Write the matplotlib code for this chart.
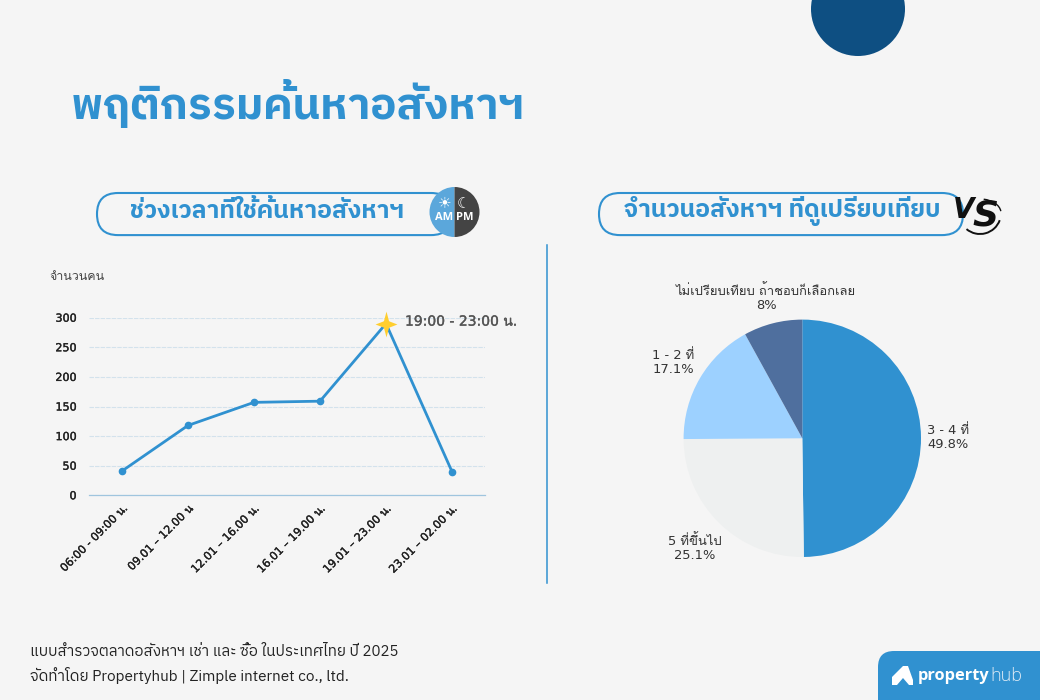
import math
import matplotlib
matplotlib.use('Agg')
from matplotlib import pyplot as plt
from matplotlib import patheffects as pe
from matplotlib.patches import Circle, FancyBboxPatch, Wedge, Arc, Polygon
from matplotlib.path import Path

W, H = 1040, 700
BLUE = '#3091d0'
TH = ['DejaVu Sans', 'Loma']
HEAD = ['IBM Plex Sans Thai', 'DejaVu Sans']

# data
hours = ['06:00 - 09:00 น.', '09.01 – 12.00 น', '12.01 – 16.00 น.',
         '16.01 – 19.00 น.', '19.01 – 23.00 น.', '23.01 – 02.00 น.']
people = [41, 118, 157, 159, 290, 40]
y_ticks = [0, 50, 100, 150, 200, 250, 300]
peak_idx = 4

compare_labels = ['3 - 4 ที่', '5 ที่ขึ้นไป', '1 - 2 ที่', 'ไม่เปรียบเทียบ ถ้าชอบก็เลือกเลย']
compare_pct = [49.8, 25.1, 17.1, 8]
pie_colors = [BLUE, '#eef0f0', '#9dd1ff', '#4f6f9e']
label_dist = [1.23, 1.29, 1.26, 1.22]


def px_axes(left, top, right, bottom):
    return fig.add_axes([left / W, 1 - bottom / H, (right - left) / W, (bottom - top) / H])


def firm(color, width=0.25):
    return [pe.withStroke(linewidth=width, foreground=color)]


fig = plt.figure(figsize=(W / 100, H / 100), dpi=100, facecolor='#f5f5f5')

# full page layer in pixel coords, for decoration and headings
bg = fig.add_axes([0, 0, 1, 1])
bg.set_xlim(0, W)
bg.set_ylim(H, 0)
bg.axis('off')

bg.add_patch(Circle((858, 9), 47, color='#0e4f82', lw=0))
bg.text(71, 103, 'พฤติกรรมค้นหาอสังหาฯ', family=HEAD, weight='bold', size=31.5,
        color=BLUE, va='center')

# heading pills
for x0, x1 in [(97, 452), (599, 963)]:
    bg.add_patch(FancyBboxPatch((x0 + 21, 214), x1 - x0 - 42, 0.1,
                                boxstyle='round,pad=21,rounding_size=21', fc='none',
                                ec=BLUE, lw=1.5))
bg.text(130, 211, 'ช่วงเวลาที่ใช้ค้นหาอสังหาฯ', family=HEAD, weight='bold', size=17.7,
        color=BLUE, va='center')
bg.text(624, 211, 'จำนวนอสังหาฯ ที่ดูเปรียบเทียบ', family=HEAD, weight='bold', size=17.8,
        color=BLUE, va='center')

# AM / PM icon
bg.add_patch(Wedge((454.5, 212), 25, 90, 270, fc='#5ba7db', lw=0))
bg.add_patch(Wedge((454.5, 212), 25, -90, 90, fc='#444444', lw=0))
bg.text(445, 203, '☀', family='DejaVu Sans', size=11, color='white', ha='center', va='center')
bg.text(464, 203, '☾', family='DejaVu Sans', size=11, color='white', ha='center', va='center')
bg.text(444, 217, 'AM', family='Open Sans', weight='bold', size=8, color='white', ha='center', va='center')
bg.text(465, 217, 'PM', family='Open Sans', weight='bold', size=8, color='white', ha='center', va='center')

# VS logo
bg.text(964, 210, 'V', family='Liberation Sans Narrow', weight='bold', style='italic', size=20,
        color='#111111', ha='center', va='center')
bg.text(985, 216, 'S', family='Liberation Sans Narrow', weight='bold', style='italic', size=26,
        color='#111111', ha='center', va='center')
bg.add_patch(Arc((980, 213), 42, 42, theta1=20, theta2=130, color='#111111', lw=1.4))
bg.add_patch(Arc((980, 213), 42, 28, theta1=-75, theta2=-5, color='#111111', lw=1))

# divider
bg.plot([546.5, 546.5], [245, 583], color=BLUE, lw=1.1)

# footer
bg.text(30, 652, 'แบบสำรวจตลาดอสังหาฯ เช่า และ ซื้อ ในประเทศไทย ปี 2025', family=HEAD,
        size=10.9, color='#222222', va='center')
bg.text(30, 675, 'จัดทำโดย Propertyhub | Zimple internet co., ltd.', family=HEAD,
        size=11, color='#222222', va='center')

# propertyhub tab
bg.add_patch(FancyBboxPatch((878 + 16, 651 + 16), 200, 100,
                            boxstyle='round,pad=16,rounding_size=16', fc=BLUE, lw=0))
bg.add_patch(Polygon([(892, 685), (892, 677), (903, 666), (908, 666), (913, 680), (913, 685),
                      (909, 685), (903, 678), (897, 685)], fc='white', lw=0))
bg.text(918, 676, 'property', family='Open Sans', weight='bold', size=11.8, color='white', va='center')
bg.text(990.5, 676, 'hub', family='Open Sans', weight='light', size=13, color='#dceaf5', va='center')

# line chart
ax = px_axes(89, 317.7, 485, 495.3)
ax.patch.set_alpha(0)
x = list(range(len(hours)))
ax.plot(x, people, color=BLUE, lw=2, marker='o', ms=4.5, clip_on=False, zorder=3)
star = Path([(0, 1), (0.2, 0.25), (0.85, 0), (0.2, -0.25), (0, -1), (-0.2, -0.25), (-0.85, 0),
             (-0.2, 0.25), (0, 1)], closed=True)
ax.plot(x[peak_idx], people[peak_idx], marker=star, ms=18.5, color='#ffce2e', mew=0,
        clip_on=False, zorder=4)
ax.annotate('19:00 - 23:00 น.', (x[peak_idx], people[peak_idx]), xytext=(19, 2),
            textcoords='offset pixels', family=TH, size=10, color='#555555', va='center',
            annotation_clip=False, path_effects=firm('#555555'))
ax.set_xlim(-0.5, len(hours) - 0.5)
ax.set_ylim(0, 300)
ax.set_yticks(y_ticks)
ax.set_xticks(x)
ax.set_xticklabels(hours, rotation=45, ha='right', rotation_mode='anchor', family=TH,
                   size=8, color='#222222')
ax.tick_params(length=0)
ax.tick_params(axis='x', pad=6)
ax.tick_params(axis='y', pad=9, labelsize=8, labelcolor='#222222')
for lab in ax.get_xticklabels() + ax.get_yticklabels():
    lab.set_path_effects(firm('#222222'))
ax.grid(axis='y', color='#d3e2ec', lw=0.8, ls=(0, (4, 1)))
ax.set_axisbelow(True)
for s in ['top', 'right', 'left']:
    ax.spines[s].set_visible(False)
ax.spines['bottom'].set_color('#9fc5de')
ax.spines['bottom'].set_linewidth(0.9)
bg.text(49, 276, 'จำนวนคน', family=TH, size=9, color='#444444', va='center')

# pie chart
R = 118.7
pie_ax = px_axes(802.3 - 1.5 * R, 438.3 - 1.5 * R, 802.3 + 1.5 * R, 438.3 + 1.5 * R)
pie_ax.patch.set_alpha(0)
wedges, _ = pie_ax.pie(compare_pct, colors=pie_colors, startangle=90, counterclock=False,
                       normalize=True, radius=1)
pie_ax.set_xlim(-1.5, 1.5)
pie_ax.set_ylim(-1.5, 1.5)
for w, name, pct, d in zip(wedges, compare_labels, compare_pct, label_dist):
    a = math.radians((w.theta1 + w.theta2) / 2)
    pie_ax.text(d * math.cos(a), d * math.sin(a), f'{name}\n{pct:g}%', family=TH, size=9.4,
                color='#333333', ha='center', va='center', linespacing=1.1)

fig.savefig('out.png', dpi=100, facecolor=fig.get_facecolor())
